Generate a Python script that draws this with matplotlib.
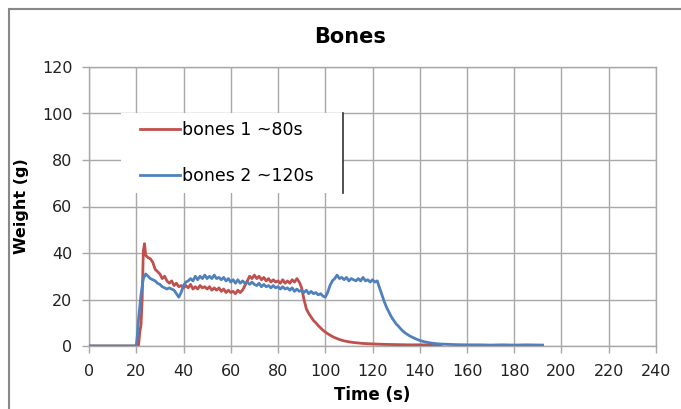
import matplotlib
matplotlib.use("Agg")
from matplotlib import pyplot as plt
from matplotlib.patches import Rectangle

# bones 1 (~80s)
t1 = [0, 20, 21, 21.5, 22, 22.5, 23, 23.5, 24, 25, 26, 27, 28, 29, 30, 31, 32, 33, 34, 35,
      36, 37, 38, 39, 40, 41, 42, 43, 44, 45, 46, 47, 48, 49, 50, 51, 52, 53, 54, 55,
      56, 57, 58, 59, 60, 61, 62, 63, 64, 65, 66, 67, 68, 69, 70, 71, 72, 73, 74, 75,
      76, 77, 78, 79, 80, 81, 82, 83, 84, 85, 86, 87, 88, 89, 90, 91, 92, 93, 94, 95,
      96, 97, 98, 99, 100, 101, 102, 103, 104, 105, 106, 107, 108, 110, 112, 114, 116,
      118, 120, 125, 130, 135, 140, 145, 149]
w1 = [0, 0, 0.5, 6, 9, 20, 41, 44, 39, 38, 37.5, 36, 33, 32, 31, 29, 30, 28, 27, 28,
      26, 27, 25.5, 26, 25, 26, 25, 26.5, 24.5, 25.5, 24.5, 26, 25, 25.5, 24.5, 25.5, 24, 25, 24, 25,
      23.5, 24.5, 23, 24, 23, 23.5, 22.5, 24, 23, 24, 26, 28, 30, 29, 30.5, 29, 30, 28.5, 29.5, 28,
      29, 27.5, 28.5, 27.5, 28, 27, 28.5, 27, 28, 27, 28.5, 27.5, 29, 27.5, 25, 20, 16, 14, 12.5, 11,
      10, 8.8, 7.8, 6.8, 6, 5.3, 4.7, 4.1, 3.6, 3.2, 2.8, 2.5, 2.2, 1.8, 1.5, 1.3, 1.1,
      1.0, 0.9, 0.7, 0.6, 0.5, 0.5, 0.4, 0.4]

# bones 2 (~120s)
t2 = [0, 20, 20.5, 21, 22, 23, 24, 25, 26, 27, 28, 29, 30, 31, 32, 33, 34, 35, 36, 37,
      38, 39, 40, 41, 42, 43, 44, 45, 46, 47, 48, 49, 50, 51, 52, 53, 54, 55, 56, 57,
      58, 59, 60, 61, 62, 63, 64, 65, 66, 67, 68, 69, 70, 71, 72, 73, 74, 75, 76, 77,
      78, 79, 80, 81, 82, 83, 84, 85, 86, 87, 88, 89, 90, 91, 92, 93, 94, 95, 96, 97,
      98, 99, 100, 101, 102, 103, 104, 105, 106, 107, 108, 109, 110, 111, 112, 113, 114, 115, 116, 117,
      118, 119, 120, 121, 122, 123, 124, 125, 126, 127, 128, 129, 130, 131, 132, 133, 134, 135, 136, 137,
      138, 139, 140, 142, 144, 146, 148, 150, 155, 160, 165, 170, 175, 180, 185, 190, 192]
w2 = [0, 0, 5, 12, 22, 29, 31, 30, 29, 28.5, 28, 27, 26.5, 25.5, 25, 24.5, 25, 24.5, 24, 22.5,
      21, 23, 26, 27.5, 28, 29, 28, 30, 28.5, 30, 29, 30.5, 29, 30, 29, 30.5, 29, 29.5, 28.5, 29.5,
      28, 29, 27.5, 28.5, 27, 28.5, 27, 28, 27, 27.5, 26.5, 27.5, 26.5, 26, 27, 25.5, 26.5, 25.5, 26, 25,
      26, 25, 25.5, 24.5, 25.5, 24.5, 25, 24, 25, 23.5, 24.5, 23.5, 24, 23, 24, 22.5, 23.5, 22.5, 23, 22,
      22.5, 21.5, 21, 23, 26, 28, 29, 30.5, 29, 29.5, 28.5, 29.5, 28, 29, 28.5, 28, 29, 28, 29.5, 28,
      28.5, 27.5, 28.5, 27.5, 28, 25, 22, 19, 16.5, 14.5, 12.5, 11, 9.5, 8.5, 7.3, 6.3, 5.5, 4.8, 4.2, 3.7,
      3.2, 2.8, 2.4, 1.8, 1.4, 1.1, 0.9, 0.8, 0.6, 0.5, 0.5, 0.4, 0.5, 0.4, 0.5, 0.4, 0.4]

labels = ["bones 1 ~80s", "bones 2 ~120s"]
colors = ["#c0504d", "#4f81bd"]
grid_col = "#a8a8a8"

fig = plt.figure(figsize=(6.81, 4.09), dpi=100)
ax = fig.add_axes([89 / 681, 63 / 409, 567 / 681, 279 / 409])

ax.plot(t1, w1, color=colors[0], lw=2.0, label=labels[0], zorder=3)
ax.plot(t2, w2, color=colors[1], lw=2.0, label=labels[1], zorder=4)

ax.set_xlim(0, 240)
ax.set_ylim(0, 120)
ax.set_xticks(range(0, 241, 20))
ax.set_yticks(range(0, 121, 20))
ax.grid(True, color=grid_col, lw=1)
ax.set_axisbelow(True)
for s in ax.spines.values():
    s.set_color(grid_col)
    s.set_linewidth(1)
ax.tick_params(direction="out", length=5, width=1, color=grid_col,
               labelsize=11.5, labelcolor="#222222")
ax.tick_params(axis="y", pad=7)
ax.tick_params(axis="x", pad=8)

ax.set_xlabel("Time (s)", fontsize=12, fontweight="bold", labelpad=5)
ax.set_ylabel("Weight (g)", fontsize=11.5, fontweight="bold", labelpad=9)
fig.text(350 / 681, 1 - 37 / 409, "Bones", ha="center", va="center",
         fontsize=15, fontweight="bold")

# legend box: white, with dark right edge
bx0, by0, bw, bh = 32 / 567, 1 - 126 / 279, 222 / 567, 80 / 279
ax.add_patch(Rectangle((bx0, by0), bw, bh, transform=ax.transAxes,
                       facecolor="white", edgecolor="none", zorder=5))
ax.plot([bx0 + bw, bx0 + bw], [by0, by0 + bh], transform=ax.transAxes,
        color="#333333", lw=1.2, zorder=6, clip_on=False)
ax.legend(loc="upper left", bbox_to_anchor=(bx0 + 0.022, by0 + bh - 0.004),
          frameon=False, fontsize=12.5, handlelength=2.3, handletextpad=0.1,
          labelspacing=1.6, borderaxespad=0)
ax.get_legend().set_zorder(7)

# chart area border
fig.patches.append(Rectangle((9 / 681, -0.1), 1.2, 1 - 9 / 409 + 0.1,
                             transform=fig.transFigure, fill=False,
                             edgecolor="#888888", lw=1.5))

fig.savefig("out.png", dpi=100)
